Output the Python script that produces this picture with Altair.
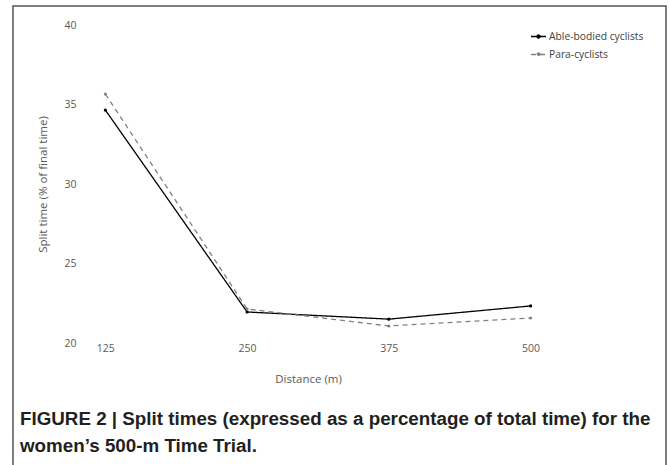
import altair as alt
import pandas as pd

# ---- data ----
distances = [125, 250, 375, 500]
able_bodied = [34.65, 21.95, 21.5, 22.33]
para_cyclists = [35.66, 22.14, 21.07, 21.57]
series_names = ["Able-bodied cyclists", "Para-cyclists"]
y_ticks = [20, 25, 30, 35, 40]
caption_lines = [
    "FIGURE 2 | Split times (expressed as a percentage of total time) for the",
    "women\u2019s 500-m Time Trial.",
]

rows = []
for d, a, p in zip(distances, able_bodied, para_cyclists):
    rows.append({"distance": d, "split": a, "series": series_names[0]})
    rows.append({"distance": d, "split": p, "series": series_names[1]})
df = pd.DataFrame(rows)

FONT = "Open Sans"
LABEL_COLOR = "#595959"

W, H = 567, 318
PAD_L, PAD_T = 77, 25

x_enc = alt.X(
    "distance:Q",
    scale=alt.Scale(domain=[100, 600], nice=False, zero=False),
    axis=alt.Axis(
        values=distances, title="Distance (m)", grid=False, domain=False, ticks=False,
        labelFont=FONT, labelFontSize=10.5, labelColor=LABEL_COLOR, labelPadding=0,
        titleFont=FONT, titleFontSize=11.5, titleFontWeight="normal", titleColor=LABEL_COLOR,
        titlePadding=20, titleX=231, titleAnchor="start", titleAlign="center",
    ),
)
y_enc = alt.Y(
    "split:Q",
    scale=alt.Scale(domain=[20, 40], nice=False, zero=False),
    axis=alt.Axis(
        values=y_ticks, title="Split time (% of final time)", grid=False, domain=False, ticks=False,
        labelFont=FONT, labelFontSize=10.5, labelColor=LABEL_COLOR, labelPadding=1,
        titleFont=FONT, titleFontSize=11.5, titleFontWeight="normal", titleColor=LABEL_COLOR,
        titlePadding=15,
    ),
)
color_scale = alt.Scale(domain=series_names, range=["#000000", "#808080"])
dash_scale = alt.Scale(domain=series_names, range=[[1, 0], [5, 4]])

legend = alt.Legend(
    title=None, orient="none", legendX=453, legendY=3, padding=0,
    labelFont=FONT, labelFontSize=10.3, labelColor="#404040", labelOffset=2,
    symbolType="M-1,0H1M-0.2,0A0.2,0.2,0,1,1,0.2,0A0.2,0.2,0,1,1,-0.2,0",
    symbolSize=225, symbolStrokeWidth=1.3, rowPadding=4,
)

lines = alt.Chart(df).mark_line(strokeWidth=1.3).encode(
    x=x_enc, y=y_enc,
    color=alt.Color("series:N", scale=color_scale, legend=legend),
    strokeDash=alt.StrokeDash("series:N", scale=dash_scale, legend=legend),
)
points = alt.Chart(df).mark_point(filled=True, size=10, opacity=1).encode(
    x=x_enc, y=y_enc,
    color=alt.Color("series:N", scale=color_scale, legend=None),
)

frame = alt.Chart(pd.DataFrame({"k": [0]})).mark_rect(
    fill=None, stroke="#555555", strokeWidth=1.5, clip=False
).encode(
    x=alt.value(13 - PAD_L), x2=alt.value(666 - PAD_L),
    y=alt.value(6 - PAD_T), y2=alt.value(480 - PAD_T),
)

cap_df = pd.DataFrame({"line": caption_lines, "idx": [0, 1]})
caption1 = alt.Chart(cap_df.iloc[[0]]).mark_text(
    align="left", baseline="middle", font="Liberation Sans", fontWeight="bold",
    fontSize=18.8, color="#231f20",
).encode(x=alt.value(20 - PAD_L), y=alt.value(419 - PAD_T), text="line:N")
caption2 = alt.Chart(cap_df.iloc[[1]]).mark_text(
    align="left", baseline="middle", font="Liberation Sans", fontWeight="bold",
    fontSize=18.8, color="#231f20",
).encode(x=alt.value(20 - PAD_L), y=alt.value(446 - PAD_T), text="line:N")

chart = alt.layer(frame, lines, points, caption1, caption2).properties(
    width=W, height=H,
    autosize=alt.AutoSizeParams(type="none"),
    padding={"left": PAD_L, "top": PAD_T, "right": 669 - PAD_L - W, "bottom": 465 - PAD_T - H},
).configure(
    background="white",
    view=alt.ViewConfig(strokeWidth=0, stroke="transparent"),
)

chart.save("out.html", embed_options={"renderer": "svg", "actions": False})
